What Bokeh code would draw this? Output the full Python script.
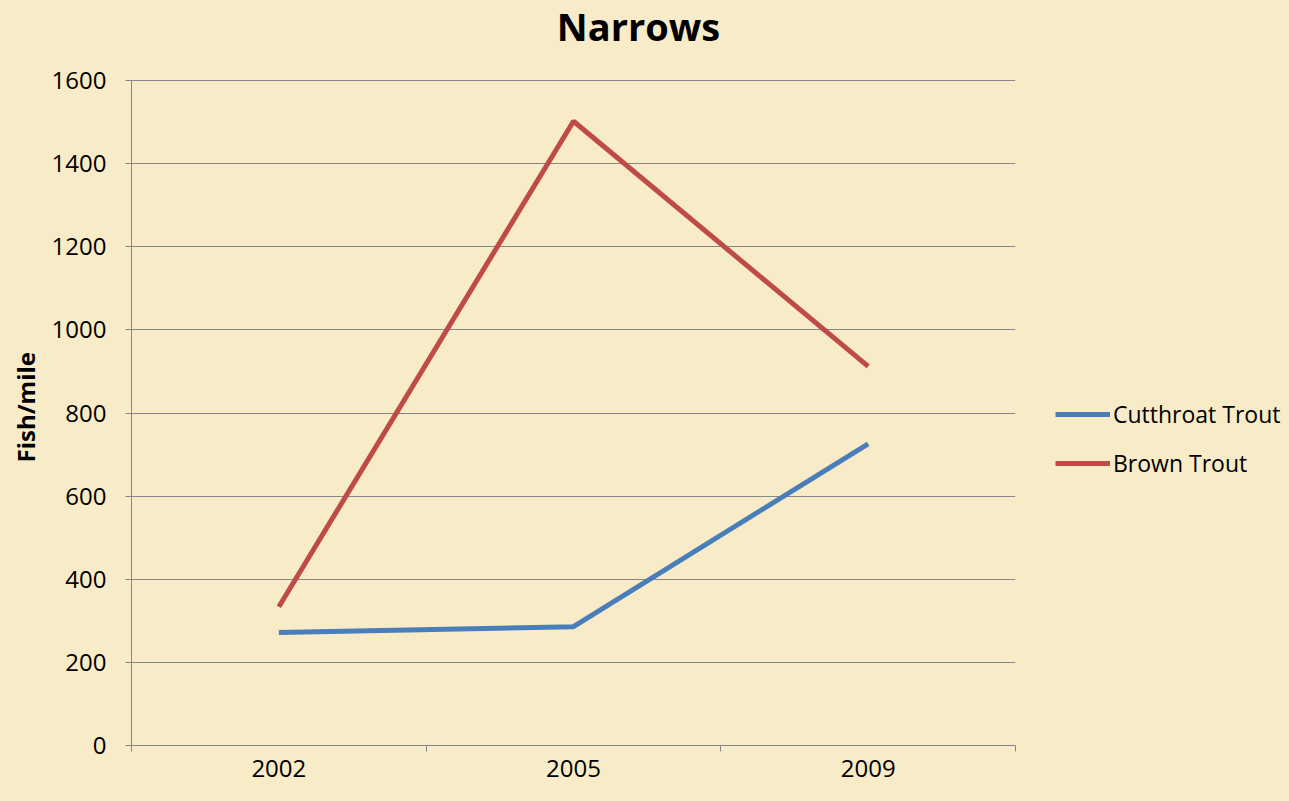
from bokeh.plotting import figure
from bokeh.models import (Range1d, FixedTicker, Legend, LegendItem, Label,
                          Title, ColumnDataSource)
from bokeh.embed import file_html
from bokeh.resources import INLINE

title_text = "Narrows"
y_label = "Fish/mile"
years = ["2002", "2005", "2009"]
cutthroat = [272, 286, 726]
brown = [334, 1502, 912]
y_ticks = [0, 200, 400, 600, 800, 1000, 1200, 1400, 1600]

BG = "#F8EBC7"
FONT = "Open Sans"
GRAY = "#878787"

# frame extends above the 1600 gridline so the title can sit inside it
PLOT_H = 665   # pixel height of 0..1600
TOP_PAD = 80   # pixels above the 1600 line
y_end = y_ticks[-1] * (PLOT_H + TOP_PAD) / PLOT_H

xs = [i + 0.5 for i in range(len(years))]
src = ColumnDataSource(dict(x=xs, cut=cutthroat, brown=brown))

p = figure(width=1273, height=785, output_backend="svg", toolbar_location=None,
           x_range=Range1d(0, len(years)), y_range=Range1d(0, y_end),
           min_border_left=131, min_border_right=258, min_border_top=0,
           min_border_bottom=40, frame_width=884,
           frame_height=PLOT_H + TOP_PAD)
p.background_fill_color = BG
p.border_fill_color = BG
p.outline_line_color = None

p.xgrid.visible = False
p.ygrid.grid_line_color = GRAY
p.ygrid.grid_line_width = 1

xax = p.xaxis[0]
xax.ticker = FixedTicker(ticks=xs, minor_ticks=list(range(len(years) + 1)))
xax.major_label_overrides = {x: y for x, y in zip(xs, years)}
xax.major_tick_out = 0
xax.major_tick_in = 0
xax.minor_tick_out = 6
xax.minor_tick_in = 0
xax.minor_tick_line_color = GRAY
xax.axis_line_color = GRAY
xax.major_label_standoff = 8
xax.major_label_text_font = FONT
xax.major_label_text_font_size = "24px"
xax.major_label_text_color = "black"

yax = p.yaxis[0]
yax.ticker = FixedTicker(ticks=y_ticks)
yax.bounds = (y_ticks[0], y_ticks[-1])
yax.major_tick_out = 6
yax.major_tick_in = 0
yax.minor_tick_out = 0
yax.minor_tick_in = 0
yax.major_tick_line_color = GRAY
yax.axis_line_color = GRAY
yax.major_label_standoff = 19
yax.major_label_text_font = FONT
yax.major_label_text_font_size = "24px"
yax.major_label_text_color = "black"

# y-axis title, centred on the 0..1600 span rather than on the whole frame
ylab = Title(text=y_label, align="left", offset=283, standoff=13,
             text_font=FONT, text_font_style="bold", text_font_size="24px",
             text_color="black")
p.add_layout(ylab, "left")

r1 = p.line("x", "cut", source=src, line_color="#4A7EBB", line_width=5)
r2 = p.line("x", "brown", source=src, line_color="#BE4B48", line_width=5)

legend = Legend(items=[LegendItem(label="Cutthroat Trout", renderers=[r1]),
                       LegendItem(label="Brown Trout", renderers=[r2])],
                location=(40, 266), padding=0, margin=0, spacing=17,
                glyph_width=55, glyph_height=20, label_height=20,
                label_standoff=3, label_text_font=FONT,
                label_text_font_size="23px", label_text_color="black",
                background_fill_alpha=0, border_line_color=None)
p.add_layout(legend, "right")

title = Label(x=507, y=PLOT_H + TOP_PAD - 25, x_units="screen", y_units="screen",
              text=title_text, text_font=FONT, text_font_style="bold",
              text_font_size="38px", text_align="center",
              text_baseline="middle", text_color="black")
p.add_layout(title)

html = file_html(p, INLINE)
html = html.replace("</head>", "<style>body{background:%s;}</style></head>" % BG, 1)
open("out.html", "w").write(html)
